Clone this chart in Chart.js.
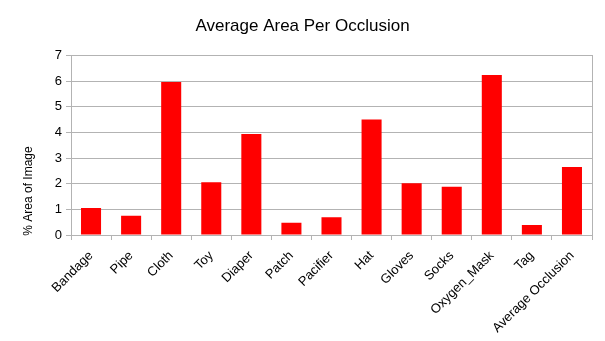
<!DOCTYPE html>
<html>
<head>
<meta charset="utf-8">
<script src="https://cdn.jsdelivr.net/npm/chart.js@4"></script>
<style>
    html, body { margin: 0; padding: 0; background: #fff; }
    #wrap { width: 605px; height: 341px; }
</style>
</head>
<body>
<div id="wrap"><canvas id="occlusionChart" width="605" height="341"></canvas></div>
<script>
// Chart data
const categories = ['Bandage', 'Pipe', 'Cloth', 'Toy', 'Diaper', 'Patch', 'Pacifier', 'Hat', 'Gloves', 'Socks', 'Oxygen_Mask', 'Tag', 'Average Occlusion'];
const areaValues = [1.05, 0.75, 5.96, 2.06, 3.94, 0.48, 0.69, 4.50, 2.02, 1.88, 6.24, 0.39, 2.65];
const yTicks = [0, 1, 2, 3, 4, 5, 6, 7];

const gridColor = '#b3b3b3';
const fontFamily = '"Liberation Sans", Arial, sans-serif';

// Y axis title, drawn lower than the chart area centre like the original
const yTitlePlugin = {
    id: 'yTitle',
    afterDraw(chart) {
        const ctx = chart.ctx;
        ctx.save();
        ctx.translate(29, 191);
        ctx.rotate(-Math.PI / 2);
        ctx.font = '12px ' + fontFamily;
        ctx.fillStyle = '#000';
        ctx.textAlign = 'center';
        ctx.textBaseline = 'middle';
        ctx.fillText('% Area of Image', 0, 0);
        ctx.restore();
    }
};

const ctx = document.getElementById('occlusionChart').getContext('2d');
const occlusionChart = new Chart(ctx, {
    type: 'bar',
    data: {
        labels: categories,
        datasets: [{
            label: '% Area of Image',
            data: areaValues,
            backgroundColor: '#ff0000',
            borderWidth: 0,
            barPercentage: 0.5,
            categoryPercentage: 1
        }]
    },
    options: {
        responsive: false,
        animation: false,
        devicePixelRatio: 1,
        layout: {
            padding: 0
        },
        plugins: {
            legend: { display: false },
            tooltip: { enabled: false },
            title: {
                display: true,
                text: 'Average Area Per Occlusion',
                color: '#000',
                font: { family: fontFamily, size: 17, weight: 'normal' },
                padding: { top: 16, bottom: 19 }
            }
        },
        scales: {
            x: {
                offset: true,
                grid: {
                    offset: true,
                    drawOnChartArea: false,
                    color: gridColor,
                    tickLength: 5
                },
                border: { color: gridColor },
                ticks: {
                    color: '#000',
                    font: { family: fontFamily, size: 13 },
                    minRotation: 45,
                    maxRotation: 45,
                    autoSkip: false,
                    padding: 8
                },
                afterFit: scale => { scale.height = 106; }
            },
            y: {
                min: 0,
                max: 7,
                afterBuildTicks: scale => {
                    scale.ticks = yTicks.map(v => ({ value: v }));
                },
                grid: {
                    color: gridColor,
                    tickLength: 5
                },
                border: { color: gridColor },
                ticks: {
                    color: '#000',
                    font: { family: fontFamily, size: 13 },
                    padding: 4
                },
                afterFit: scale => { scale.width = 71; }
            },
            yRight: {
                position: 'right',
                min: 0,
                max: 7,
                grid: { drawOnChartArea: false, drawTicks: false },
                border: { color: gridColor },
                ticks: { display: false },
                afterFit: scale => { scale.width = 13; }
            }
        }
    },
    plugins: [yTitlePlugin]
});
</script>
</body>
</html>
